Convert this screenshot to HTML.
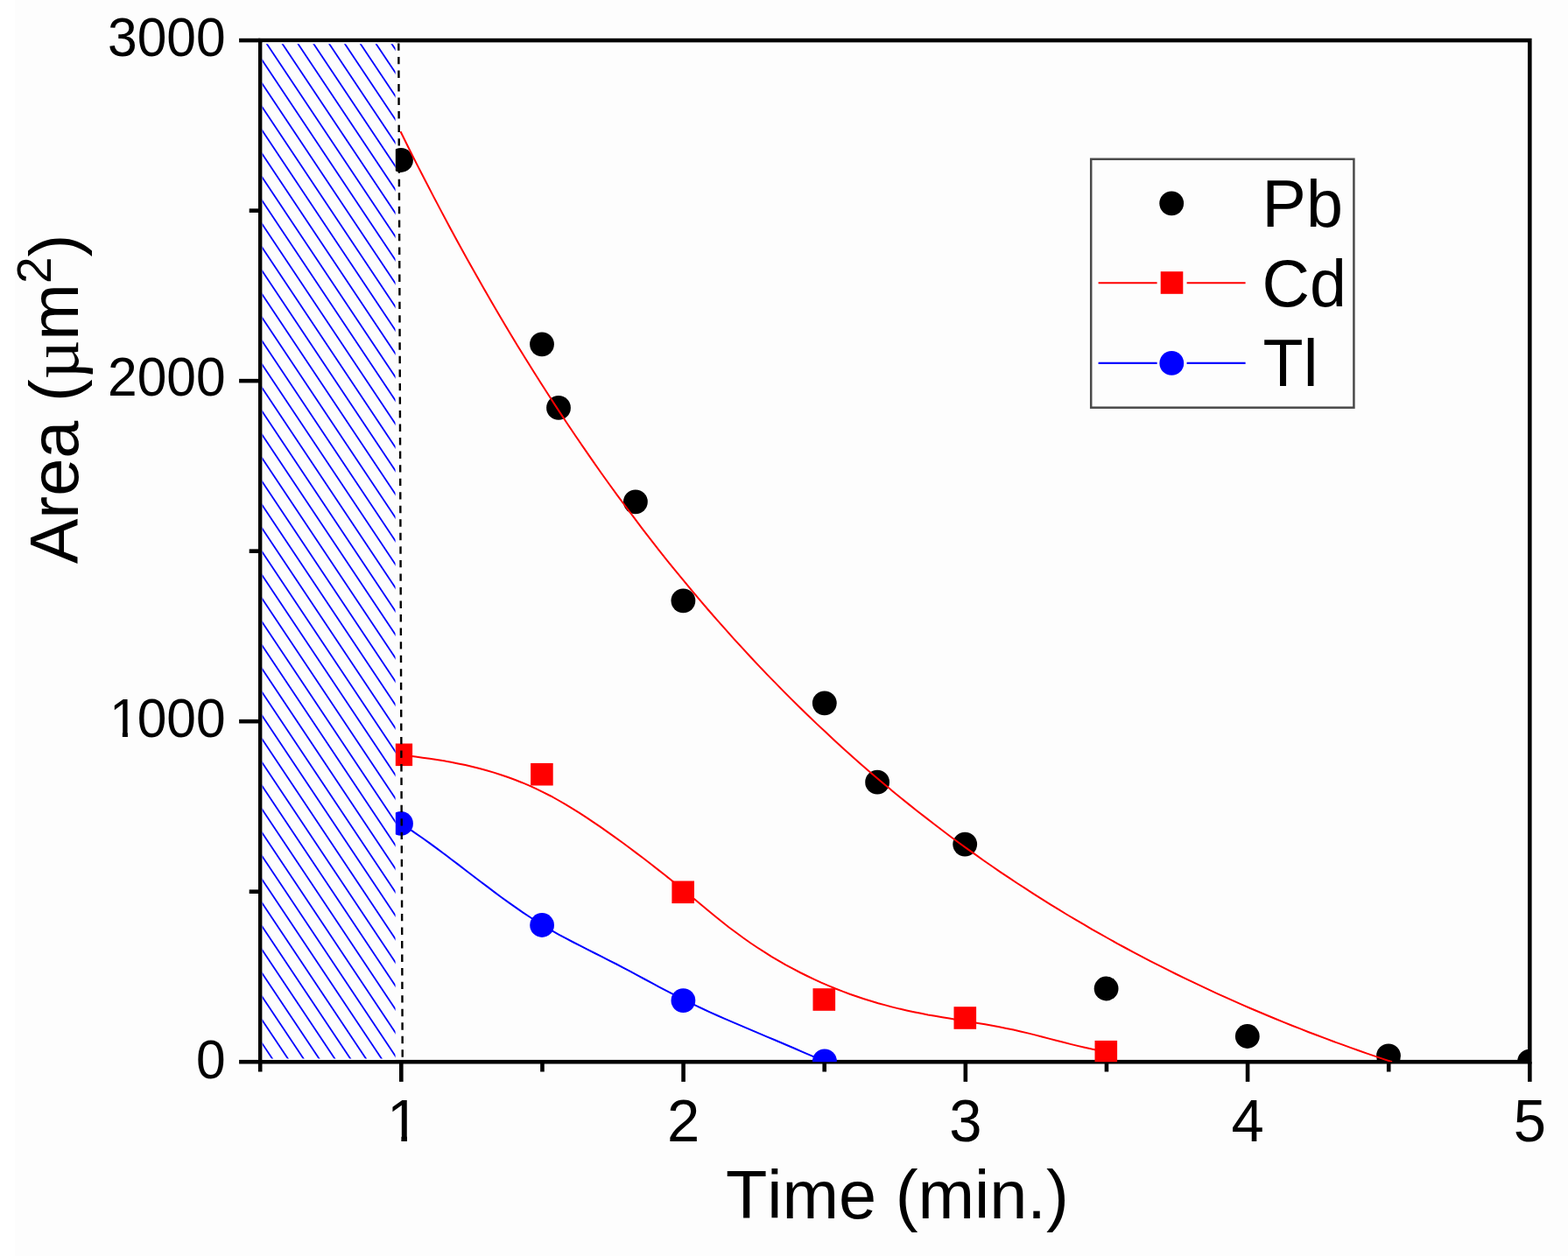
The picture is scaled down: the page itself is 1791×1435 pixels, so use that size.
<!DOCTYPE html>
<html lang="en"><head><meta charset="utf-8"><title>Area vs Time</title>
<style>
html,body{margin:0;padding:0;background:#fdfdfd;}
body{width:1791px;height:1435px;overflow:hidden;}
svg{display:block;}
text{font-family:"Liberation Sans",Arial,sans-serif;font-kerning:none;}
</style></head><body>
<svg xmlns="http://www.w3.org/2000/svg" width="1791" height="1435" viewBox="0 0 1791 1435" font-family="Liberation Sans, Arial, sans-serif" font-kerning="none">
<defs><clipPath id="plot"><rect x="297.3" y="46.1" width="1450.0" height="1167.2"/></clipPath><clipPath id="hatchclip"><rect x="299.6" y="50.2" width="152.0" height="1159.4"/></clipPath></defs>
<rect width="1791" height="1435" fill="#fdfdfd"/>
<rect width="17.2" height="1435" fill="#ffffff"/>
<g stroke="#000" stroke-width="4.6" fill="none" stroke-linecap="butt">
<rect x="297.3" y="46.1" width="1450.0" height="1167.1"/>
<line x1="273.1" x2="297.3" y1="1213.20" y2="1213.20"/>
<line x1="273.1" x2="297.3" y1="824.17" y2="824.17"/>
<line x1="273.1" x2="297.3" y1="435.14" y2="435.14"/>
<line x1="273.1" x2="297.3" y1="46.11" y2="46.11"/>
<line x1="284.7" x2="297.3" y1="1018.69" y2="1018.69"/>
<line x1="284.7" x2="297.3" y1="629.66" y2="629.66"/>
<line x1="284.7" x2="297.3" y1="240.63" y2="240.63"/>
<line y1="1213.2" y2="1235.9" x1="458.32" x2="458.32"/>
<line y1="1213.2" y2="1235.9" x1="780.58" x2="780.58"/>
<line y1="1213.2" y2="1235.9" x1="1102.83" x2="1102.83"/>
<line y1="1213.2" y2="1235.9" x1="1425.08" x2="1425.08"/>
<line y1="1213.2" y2="1235.9" x1="1747.33" x2="1747.33"/>
<line y1="1213.2" y2="1224.5" x1="297.20" x2="297.20"/>
<line y1="1213.2" y2="1224.5" x1="619.45" x2="619.45"/>
<line y1="1213.2" y2="1224.5" x1="941.70" x2="941.70"/>
<line y1="1213.2" y2="1224.5" x1="1263.95" x2="1263.95"/>
<line y1="1213.2" y2="1224.5" x1="1586.20" x2="1586.20"/>
</g>
<g clip-path="url(#plot)">
<circle cx="458" cy="183" r="13.9" fill="#000"/>
<circle cx="619" cy="393.3" r="13.9" fill="#000"/>
<circle cx="638" cy="465.9" r="13.9" fill="#000"/>
<circle cx="725.9" cy="573.3" r="13.9" fill="#000"/>
<circle cx="780.4" cy="686.3" r="13.9" fill="#000"/>
<circle cx="941.8" cy="803.3" r="13.9" fill="#000"/>
<circle cx="1002.1" cy="893.7" r="13.9" fill="#000"/>
<circle cx="1102.2" cy="964.6" r="13.9" fill="#000"/>
<circle cx="1263.6" cy="1129.5" r="13.9" fill="#000"/>
<circle cx="1424.8" cy="1184" r="13.9" fill="#000"/>
<circle cx="1586" cy="1206.4" r="13.9" fill="#000"/>
<circle cx="1747.1" cy="1212.7" r="13.9" fill="#000"/>
<path d="M457.5,150.3 L467.0,169.5 L476.5,188.4 L486.1,207.0 L495.6,225.4 L505.1,243.4 L514.6,261.2 L524.1,278.7 L533.6,296.0 L543.2,313.0 L552.7,329.7 L562.2,346.2 L571.7,362.4 L581.2,378.4 L590.7,394.2 L600.3,409.7 L609.8,425.0 L619.3,440.0 L628.8,454.8 L638.3,469.4 L647.8,483.8 L657.4,498.0 L666.9,511.9 L676.4,525.6 L685.9,539.2 L695.4,552.5 L704.9,565.6 L714.5,578.5 L724.0,591.2 L733.5,603.8 L743.0,616.1 L752.5,628.3 L762.0,640.3 L771.6,652.1 L781.1,663.7 L790.6,675.1 L800.1,686.4 L809.6,697.5 L819.1,708.4 L828.7,719.2 L838.2,729.8 L847.7,740.2 L857.2,750.5 L866.7,760.6 L876.2,770.6 L885.8,780.4 L895.3,790.1 L904.8,799.6 L914.3,809.0 L923.8,818.3 L933.3,827.4 L942.9,836.3 L952.4,845.2 L961.9,853.9 L971.4,862.4 L980.9,870.9 L990.4,879.2 L1000.0,887.4 L1009.5,895.4 L1019.0,903.4 L1028.5,911.2 L1038.0,918.9 L1047.5,926.5 L1057.1,933.9 L1066.6,941.3 L1076.1,948.5 L1085.6,955.7 L1095.1,962.7 L1104.6,969.6 L1114.2,976.4 L1123.7,983.2 L1133.2,989.8 L1142.7,996.3 L1152.2,1002.7 L1161.7,1009.0 L1171.3,1015.2 L1180.8,1021.4 L1190.3,1027.4 L1199.8,1033.3 L1209.3,1039.2 L1218.8,1045.0 L1228.4,1050.7 L1237.9,1056.2 L1247.4,1061.8 L1256.9,1067.2 L1266.4,1072.5 L1275.9,1077.8 L1285.5,1083.0 L1295.0,1088.1 L1304.5,1093.1 L1314.0,1098.1 L1323.5,1102.9 L1333.0,1107.7 L1342.6,1112.5 L1352.1,1117.1 L1361.6,1121.7 L1371.1,1126.2 L1380.6,1130.7 L1390.1,1135.1 L1399.7,1139.4 L1409.2,1143.7 L1418.7,1147.8 L1428.2,1152.0 L1437.7,1156.0 L1447.2,1160.0 L1456.8,1164.0 L1466.3,1167.9 L1475.8,1171.7 L1485.3,1175.4 L1494.8,1179.2 L1504.3,1182.8 L1513.9,1186.4 L1523.4,1190.0 L1532.9,1193.4 L1542.4,1196.9 L1551.9,1200.3 L1561.4,1203.6 L1571.0,1206.9 L1580.5,1210.1 L1590.0,1213.3" fill="none" stroke="#ff0000" stroke-width="2"/>
<path d="M458.3,862.8 L466.4,863.6 L474.6,864.6 L482.7,865.7 L490.8,866.8 L499.0,868.0 L507.1,869.3 L515.2,870.8 L523.4,872.4 L531.5,874.1 L539.6,876.0 L547.7,878.0 L555.9,880.3 L564.0,882.6 L572.1,885.2 L580.3,888.0 L588.4,891.0 L596.5,894.2 L604.7,897.7 L612.8,901.4 L620.9,905.3 L629.1,909.5 L637.2,914.0 L645.3,918.7 L653.5,923.6 L661.6,928.6 L669.7,933.9 L677.8,939.3 L686.0,944.9 L694.1,950.6 L702.2,956.4 L710.4,962.3 L718.5,968.3 L726.6,974.4 L734.8,980.5 L742.9,986.8 L751.0,993.1 L759.2,999.5 L767.3,1006.0 L775.4,1012.6 L783.6,1019.3 L791.7,1026.1 L799.8,1032.8 L807.9,1039.6 L816.1,1046.2 L824.2,1052.8 L832.3,1059.2 L840.5,1065.3 L848.6,1071.3 L856.7,1077.0 L864.9,1082.5 L873.0,1087.7 L881.1,1092.8 L889.3,1097.6 L897.4,1102.3 L905.5,1106.7 L913.7,1111.0 L921.8,1115.0 L929.9,1118.9 L938.0,1122.6 L946.2,1126.1 L954.3,1129.5 L962.4,1132.6 L970.6,1135.7 L978.7,1138.5 L986.8,1141.2 L995.0,1143.8 L1003.1,1146.2 L1011.2,1148.4 L1019.4,1150.6 L1027.5,1152.6 L1035.6,1154.4 L1043.8,1156.2 L1051.9,1157.8 L1060.0,1159.4 L1068.1,1160.8 L1076.3,1162.2 L1084.4,1163.6 L1092.5,1164.9 L1100.7,1166.3 L1108.8,1167.6 L1116.9,1168.9 L1125.1,1170.3 L1133.2,1171.8 L1141.3,1173.3 L1149.5,1174.9 L1157.6,1176.6 L1165.7,1178.4 L1173.9,1180.4 L1182.0,1182.4 L1190.1,1184.5 L1198.2,1186.6 L1206.4,1188.7 L1214.5,1190.8 L1222.6,1192.9 L1230.8,1194.9 L1238.9,1196.8 L1247.0,1198.6 L1255.2,1200.2 L1263.3,1201.6" fill="none" stroke="#ff0000" stroke-width="2"/>
<rect x="445.50" y="849.50" width="25.6" height="25.6" fill="#ff0000"/>
<rect x="606.10" y="871.90" width="25.6" height="25.6" fill="#ff0000"/>
<rect x="767.40" y="1006.50" width="25.6" height="25.6" fill="#ff0000"/>
<rect x="928.50" y="1129.20" width="25.6" height="25.6" fill="#ff0000"/>
<rect x="1089.50" y="1150.20" width="25.6" height="25.6" fill="#ff0000"/>
<rect x="1250.50" y="1188.90" width="25.6" height="25.6" fill="#ff0000"/>
<path d="M458.0,940.8 L466.2,946.2 L474.4,951.8 L482.6,957.5 L490.8,963.4 L499.0,969.4 L507.2,975.5 L515.4,981.7 L523.6,987.9 L531.8,994.2 L540.0,1000.5 L548.2,1006.7 L556.4,1012.9 L564.6,1019.1 L572.8,1025.2 L581.0,1031.1 L589.2,1036.9 L597.4,1042.6 L605.6,1048.0 L613.8,1053.3 L622.0,1058.3 L630.2,1063.2 L638.4,1067.8 L646.6,1072.2 L654.8,1076.5 L663.0,1080.7 L671.2,1084.9 L679.4,1089.0 L687.6,1093.1 L695.8,1097.3 L704.1,1101.5 L712.3,1105.8 L720.5,1110.2 L728.7,1114.6 L736.9,1119.0 L745.1,1123.4 L753.3,1127.8 L761.5,1132.1 L769.7,1136.4 L777.9,1140.6 L786.1,1144.6 L794.3,1148.6 L802.5,1152.5 L810.7,1156.3 L818.9,1160.0 L827.1,1163.6 L835.3,1167.2 L843.5,1170.7 L851.7,1174.2 L859.9,1177.7 L868.1,1181.1 L876.3,1184.6 L884.5,1188.0 L892.7,1191.5 L900.9,1195.0 L909.1,1198.5 L917.3,1202.1 L925.5,1205.6 L933.7,1209.1 L941.9,1212.6" fill="none" stroke="#0000ff" stroke-width="2"/>
<circle cx="458" cy="940.9" r="13.9" fill="#0000ff"/>
<circle cx="619.1" cy="1057" r="13.9" fill="#0000ff"/>
<circle cx="780.4" cy="1143.1" r="13.9" fill="#0000ff"/>
<circle cx="941.9" cy="1212.3" r="13.9" fill="#0000ff"/>
</g>
<rect x="299.6" y="48.4" width="152.2" height="1162.5" fill="#fdfdfd"/>
<g clip-path="url(#hatchclip)" stroke="#0000ff" stroke-width="1.8" fill="none">
<line x1="-486.49" y1="40" x2="300.17" y2="1220"/>
<line x1="-468.66" y1="40" x2="318.00" y2="1220"/>
<line x1="-450.83" y1="40" x2="335.83" y2="1220"/>
<line x1="-433.00" y1="40" x2="353.66" y2="1220"/>
<line x1="-415.17" y1="40" x2="371.49" y2="1220"/>
<line x1="-397.34" y1="40" x2="389.32" y2="1220"/>
<line x1="-379.51" y1="40" x2="407.15" y2="1220"/>
<line x1="-361.68" y1="40" x2="424.98" y2="1220"/>
<line x1="-343.85" y1="40" x2="442.81" y2="1220"/>
<line x1="-326.02" y1="40" x2="460.64" y2="1220"/>
<line x1="-308.19" y1="40" x2="478.47" y2="1220"/>
<line x1="-290.36" y1="40" x2="496.30" y2="1220"/>
<line x1="-272.53" y1="40" x2="514.13" y2="1220"/>
<line x1="-254.70" y1="40" x2="531.96" y2="1220"/>
<line x1="-236.87" y1="40" x2="549.79" y2="1220"/>
<line x1="-219.04" y1="40" x2="567.62" y2="1220"/>
<line x1="-201.21" y1="40" x2="585.45" y2="1220"/>
<line x1="-183.38" y1="40" x2="603.28" y2="1220"/>
<line x1="-165.55" y1="40" x2="621.11" y2="1220"/>
<line x1="-147.72" y1="40" x2="638.94" y2="1220"/>
<line x1="-129.89" y1="40" x2="656.77" y2="1220"/>
<line x1="-112.06" y1="40" x2="674.60" y2="1220"/>
<line x1="-94.23" y1="40" x2="692.43" y2="1220"/>
<line x1="-76.40" y1="40" x2="710.26" y2="1220"/>
<line x1="-58.57" y1="40" x2="728.09" y2="1220"/>
<line x1="-40.74" y1="40" x2="745.92" y2="1220"/>
<line x1="-22.91" y1="40" x2="763.75" y2="1220"/>
<line x1="-5.08" y1="40" x2="781.58" y2="1220"/>
<line x1="12.75" y1="40" x2="799.41" y2="1220"/>
<line x1="30.58" y1="40" x2="817.24" y2="1220"/>
<line x1="48.41" y1="40" x2="835.07" y2="1220"/>
<line x1="66.24" y1="40" x2="852.90" y2="1220"/>
<line x1="84.07" y1="40" x2="870.73" y2="1220"/>
<line x1="101.90" y1="40" x2="888.56" y2="1220"/>
<line x1="119.73" y1="40" x2="906.39" y2="1220"/>
<line x1="137.56" y1="40" x2="924.22" y2="1220"/>
<line x1="155.39" y1="40" x2="942.05" y2="1220"/>
<line x1="173.22" y1="40" x2="959.88" y2="1220"/>
<line x1="191.05" y1="40" x2="977.71" y2="1220"/>
<line x1="208.88" y1="40" x2="995.54" y2="1220"/>
<line x1="226.71" y1="40" x2="1013.37" y2="1220"/>
<line x1="244.54" y1="40" x2="1031.20" y2="1220"/>
<line x1="262.37" y1="40" x2="1049.03" y2="1220"/>
<line x1="280.20" y1="40" x2="1066.86" y2="1220"/>
<line x1="298.03" y1="40" x2="1084.69" y2="1220"/>
<line x1="315.86" y1="40" x2="1102.52" y2="1220"/>
<line x1="333.69" y1="40" x2="1120.35" y2="1220"/>
<line x1="351.52" y1="40" x2="1138.18" y2="1220"/>
<line x1="369.35" y1="40" x2="1156.01" y2="1220"/>
<line x1="387.18" y1="40" x2="1173.84" y2="1220"/>
<line x1="405.01" y1="40" x2="1191.67" y2="1220"/>
<line x1="422.84" y1="40" x2="1209.50" y2="1220"/>
<line x1="440.67" y1="40" x2="1227.33" y2="1220"/>
<line x1="458.50" y1="40" x2="1245.16" y2="1220"/>
</g>
<line x1="455.3" x2="459.75" y1="49.4" y2="1211" stroke="#000" stroke-width="2.4" stroke-dasharray="8.4 7.14"/>
<text transform="translate(257.60,1231.50) scale(1,1.04)" font-size="60.5" text-anchor="end" fill="#000" >0</text>
<clipPath id="one1"><rect x="121.01" y="778.68" width="35.65" height="57.02"/><rect x="139.87" y="833.90" width="6.05" height="9.70"/><rect x="156.66" y="778.68" width="106.94" height="81.80"/></clipPath>
<g clip-path="url(#one1)"><text transform="translate(125.01,841.60) scale(1,1.04)" font-size="60.5" text-anchor="start" fill="#000">1<tspan dx="-2">000</tspan></text></g>
<text transform="translate(257.60,452.20) scale(1,1.04)" font-size="60.5" text-anchor="end" fill="#000" >2000</text>
<text transform="translate(257.60,63.60) scale(1,1.04)" font-size="60.5" text-anchor="end" fill="#000" >3000</text>
<clipPath id="one2"><rect x="437.89" y="1234.92" width="41.26" height="62.34"/><rect x="458.39" y="1295.47" width="6.62" height="10.13"/></clipPath>
<g clip-path="url(#one2)"><text transform="translate(441.89,1303.60) scale(1,1.025)" font-size="67" text-anchor="start" fill="#000">1</text></g>
<text transform="translate(780.58,1303.60) scale(1,1.025)" font-size="67" text-anchor="middle" fill="#000" >2</text>
<text transform="translate(1102.83,1303.60) scale(1,1.025)" font-size="67" text-anchor="middle" fill="#000" >3</text>
<text transform="translate(1425.08,1303.60) scale(1,1.025)" font-size="67" text-anchor="middle" fill="#000" >4</text>
<text transform="translate(1747.33,1303.60) scale(1,1.025)" font-size="67" text-anchor="middle" fill="#000" >5</text>
<text transform="translate(1024.80,1391.70) scale(1,1.0)" font-size="77.5" text-anchor="middle" fill="#000" >Time (min.)</text>
<text transform="translate(89.3,456.0) rotate(-90)" font-size="77.5" text-anchor="middle" fill="#000">Area (<tspan font-family="Liberation Serif, serif">µ</tspan>m<tspan font-size="55" dy="-31.5">2</tspan><tspan dy="31.5">)</tspan></text>
<rect x="1246.2" y="181.8" width="300.2" height="283.9" fill="#fdfdfd" stroke="#4a4a4a" stroke-width="2.5"/>
<circle cx="1338.2" cy="232.3" r="13.9" fill="#000"/>
<path d="M1254.6,323.2H1321.6M1355.6,323.2H1422.6" stroke="#ff0000" stroke-width="2"/>
<rect x="1325.70" y="310.20" width="25.6" height="25.6" fill="#ff0000"/>
<path d="M1254.6,414.9H1321.6M1355.6,414.9H1422.6" stroke="#0000ff" stroke-width="2.4"/>
<circle cx="1338.3" cy="414.9" r="13.9" fill="#0000ff"/>
<text transform="translate(1441.60,258.60) scale(1,1.015)" font-size="75.5" text-anchor="start" fill="#000" >Pb</text>
<text transform="translate(1441.60,349.75) scale(1,1.015)" font-size="75.5" text-anchor="start" fill="#000" >Cd</text>
<text transform="translate(1442.60,440.90) scale(1,1.015)" font-size="75.5" text-anchor="start" fill="#000" >Tl</text>
</svg>
</body></html>
